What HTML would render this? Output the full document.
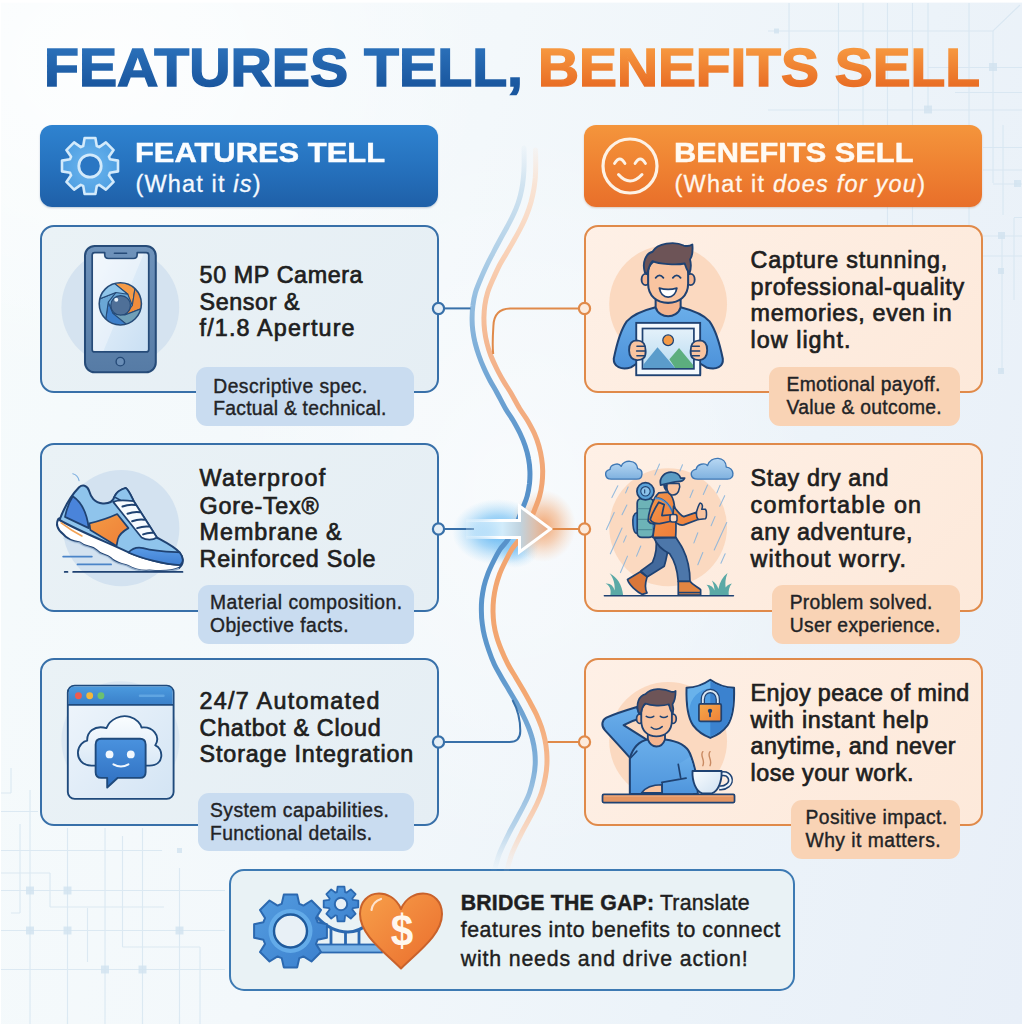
<!DOCTYPE html>
<html lang="en">
<head>
<meta charset="utf-8">
<title>Features Tell, Benefits Sell</title>
<style>
html,body{margin:0;padding:0;}
body{width:1024px;height:1024px;overflow:hidden;background:#f1f6f9;font-family:"Liberation Sans",sans-serif;}
#stage{position:relative;width:1024px;height:1024px;overflow:hidden;
  background:
   radial-gradient(ellipse 560px 460px at 10% 6%, rgba(255,255,255,.8), rgba(255,255,255,0) 70%),
   radial-gradient(ellipse 420px 520px at 50% 48%, rgba(255,255,255,.5), rgba(255,255,255,0) 72%),
   linear-gradient(105deg,#f6fbfc 0%,#f3f8fb 40%,#ecf3f9 72%,#e8eff8 100%);}
.t{position:absolute;white-space:pre;font-family:"Liberation Sans",sans-serif;margin:0;padding:0;}
.t i{font-style:italic;}
.box{position:absolute;box-sizing:border-box;}
.hdr{border-radius:12px;}
.hdr.l{left:40px;top:125px;width:398px;height:82px;background:linear-gradient(180deg,#2f83d0 0%,#2672be 50%,#1f60a8 100%);box-shadow:0 1px 2px rgba(20,60,110,.25);}
.hdr.r{left:584px;top:125px;width:398px;height:82px;background:linear-gradient(180deg,#f4953c 0%,#ef8232 50%,#e86f2a 100%);box-shadow:0 1px 2px rgba(150,70,10,.25);}
.card{border-radius:14px;border:2px solid;}
.card.l{left:40px;width:399px;border-color:#3870a9;background:linear-gradient(135deg,#eaf2f6,#e5eef4);}
.card.r{left:583.5px;width:399.5px;border-color:#e08a4a;background:linear-gradient(135deg,#fef0e6,#fde9da);}
.tag{border-radius:11px;}
.tag.l{background:#c9dcf0;}
.tag.r{background:#f9d3b5;}
svg{position:absolute;overflow:visible;}
</style>
</head>
<body>
<div id="stage">
<!-- faint background grid / circuit decoration -->
<svg width="1024" height="1024" viewBox="0 0 1024 1024" style="left:0;top:0">
<g stroke="#d4e4f0" stroke-width="1.2" fill="none" opacity=".75">
<!-- top-right grid -->
<path d="M789 3V60M838.5 3V125M863 3V125M887.5 3V125M912.5 3V125M928 3V108M969 3V125M993 31V183M1003 125V215M1014 218V300"/>
<path d="M768 31H993L1020 5M928 67.5H1022M955 92.5H1022M768 110H1022M983 147.5H1022M983 170H1022M993 184H1022M1014 217.5H1022"/>
<path d="M887.5 207V225M912.5 207V225M969 207V225M983 256H1022M1002 236V372M983 236H1022"/>
<!-- bottom-left grid -->
<path d="M30 790V1024M67.5 828V1024M105 828V1024M142.5 828V1024M179.5 868V1024M122.5 836V947M87.5 908V962M200 947V1024M11 768V793M20 824V913M50 873V907"/>
<path d="M1 811.5H38M1 850.5H162M1 873H50M1 890.5H225M50 907H164M1 930.5H225M122.5 947H200M1 969.5H225M1 793H11M11 913H20"/>
</g>
<g fill="#d2e3f0" opacity=".8">
<rect x="989" y="63" width="8" height="8"/><rect x="924" y="105.5" width="8" height="8"/><rect x="1014" y="180" width="7" height="7"/><rect x="774" y="28.5" width="5" height="5"/>
<rect x="998" y="232" width="7" height="7"/><rect x="998" y="268" width="6" height="6"/><rect x="998" y="368" width="6" height="6"/>
<rect x="26" y="886.5" width="8" height="8"/><rect x="63.5" y="886.5" width="8" height="8"/><rect x="26" y="926.5" width="8" height="8"/><rect x="63.5" y="926.5" width="8" height="8"/>
<rect x="175.5" y="926.5" width="8" height="8"/><rect x="101" y="965.5" width="8" height="8"/><rect x="138.5" y="965.5" width="8" height="8"/><rect x="177" y="848" width="5" height="5"/>
</g>
<!-- scan edge: thin white margins -->
<rect x="0" y="0" width="1024" height="2.6" fill="#fff"/><rect x="1022" y="0" width="2" height="1024" fill="#fff"/><rect x="0" y="0" width="1" height="1024" fill="#fff"/>
</svg>
<!-- header bars -->
<div class="box hdr l"></div>
<div class="box hdr r"></div>
<!-- feature cards -->
<div class="box card l" style="top:225px;height:168px;"></div>
<div class="box card l" style="top:443.2px;height:168.6px;"></div>
<div class="box card l" style="top:658.4px;height:168px;"></div>
<!-- benefit cards -->
<div class="box card r" style="top:225px;height:168px;"></div>
<div class="box card r" style="top:443.2px;height:168.6px;"></div>
<div class="box card r" style="top:658.4px;height:168px;"></div>
<!-- tags -->
<div class="box tag l" style="left:196.2px;top:367px;width:217.6px;height:58.5px;"></div>
<div class="box tag l" style="left:198px;top:585px;width:216px;height:59px;"></div>
<div class="box tag l" style="left:198px;top:792.5px;width:216px;height:58px;"></div>
<div class="box tag r" style="left:768.8px;top:367px;width:191.2px;height:58.6px;"></div>
<div class="box tag r" style="left:771.5px;top:585px;width:188.5px;height:59px;"></div>
<div class="box tag r" style="left:791px;top:800px;width:169px;height:58.5px;"></div>
<!-- bottom callout -->
<div class="box" style="left:228.5px;top:868.5px;width:566.5px;height:122px;border:2px solid #3d7ab3;border-radius:15px;background:#e9f2f5;"></div>
<!-- connectors -->
<svg width="1024" height="1024" viewBox="0 0 1024 1024" style="left:0;top:0">
<defs>
<linearGradient id="fadeB" x1="0" y1="140" x2="0" y2="872" gradientUnits="userSpaceOnUse">
 <stop offset="0" stop-color="#c3dbec" stop-opacity="0"/>
 <stop offset=".06" stop-color="#c3dbec" stop-opacity=".7"/>
 <stop offset=".15" stop-color="#b2d1e8"/>
 <stop offset=".22" stop-color="#93bde0"/>
 <stop offset=".32" stop-color="#73a7d5"/>
 <stop offset=".45" stop-color="#5590c9"/>
 <stop offset=".72" stop-color="#5d97cc"/>
 <stop offset=".86" stop-color="#82b1da"/>
 <stop offset=".94" stop-color="#a9cbe6" stop-opacity=".8"/>
 <stop offset="1" stop-color="#c3dbec" stop-opacity="0"/>
</linearGradient>
<linearGradient id="fadeO" x1="0" y1="140" x2="0" y2="874" gradientUnits="userSpaceOnUse">
 <stop offset="0" stop-color="#fbdcc6" stop-opacity="0"/>
 <stop offset=".06" stop-color="#fbdcc6" stop-opacity=".7"/>
 <stop offset=".15" stop-color="#f9d2b8"/>
 <stop offset=".22" stop-color="#f6c2a0"/>
 <stop offset=".32" stop-color="#f3b087"/>
 <stop offset=".5" stop-color="#f1a470"/>
 <stop offset=".75" stop-color="#f3a771"/>
 <stop offset=".87" stop-color="#f6bb94"/>
 <stop offset=".94" stop-color="#f9d0b5" stop-opacity=".8"/>
 <stop offset="1" stop-color="#fbdcc6" stop-opacity="0"/>
</linearGradient>
<radialGradient id="glowB" cx=".5" cy=".5" r=".5"><stop offset="0" stop-color="#4fadf1" stop-opacity=".95"/><stop offset=".5" stop-color="#62b8f3" stop-opacity=".55"/><stop offset="1" stop-color="#8fd0f7" stop-opacity="0"/></radialGradient>
<radialGradient id="glowO" cx=".5" cy=".5" r=".5"><stop offset="0" stop-color="#f19a5f" stop-opacity=".9"/><stop offset=".5" stop-color="#f3a873" stop-opacity=".5"/><stop offset="1" stop-color="#f6c29d" stop-opacity="0"/></radialGradient>
<linearGradient id="arrF" x1="470" y1="0" x2="551" y2="0" gradientUnits="userSpaceOnUse"><stop offset="0" stop-color="#e8f7ff" stop-opacity=".25"/><stop offset=".4" stop-color="#d2ecfb"/><stop offset=".62" stop-color="#c0d3df"/><stop offset=".8" stop-color="#dcc0ae"/><stop offset="1" stop-color="#efa575"/></linearGradient>
<linearGradient id="arrS" x1="462" y1="0" x2="500" y2="0" gradientUnits="userSpaceOnUse"><stop offset="0" stop-color="#fff" stop-opacity="0"/><stop offset="1" stop-color="#fff"/></linearGradient>
</defs>
<!-- glows -->
<ellipse cx="498" cy="532" rx="46" ry="33" fill="url(#glowB)"/>
<ellipse cx="515" cy="549" rx="24" ry="19" fill="url(#glowB)" opacity=".55"/>
<ellipse cx="543" cy="526" rx="33" ry="36" fill="url(#glowO)"/>
<!-- wavy strands -->
<path id="strandB" d="M524.0 148.0C524.0 150.8 524.2 160.1 524.1 165.0C524.0 169.9 523.8 173.3 523.4 177.5C523.0 181.7 522.5 185.8 521.6 190.0C520.8 194.2 519.7 198.3 518.3 202.5C516.9 206.7 515.2 210.8 513.2 215.0C511.3 219.2 509.0 223.3 506.8 227.5C504.5 231.7 502.1 235.8 499.9 240.0C497.6 244.2 495.4 248.3 493.3 252.5C491.1 256.7 489.1 260.3 486.9 265.0C484.7 269.7 481.9 275.8 480.0 280.5C478.1 285.2 476.5 288.8 475.3 293.0C474.1 297.2 473.4 301.3 472.9 305.5C472.3 309.7 472.1 313.8 472.1 318.0C472.0 322.2 472.3 326.3 472.8 330.5C473.3 334.7 474.1 338.8 475.1 343.0C476.2 347.2 477.4 351.3 478.9 355.5C480.3 359.7 482.0 363.8 483.9 368.0C485.7 372.2 487.8 376.3 490.0 380.5C492.2 384.7 494.6 388.3 497.1 393.0C499.7 397.7 502.7 403.8 505.4 408.5C508.1 413.2 510.9 416.8 513.4 421.0C515.8 425.2 518.1 429.3 520.1 433.5C522.1 437.7 523.8 441.8 525.2 446.0C526.6 450.2 527.8 454.3 528.5 458.5C529.3 462.7 529.8 466.8 529.9 471.0C530.1 475.2 529.9 479.3 529.5 483.5C529.0 487.7 528.3 492.1 527.2 496.0C526.2 499.9 525.0 502.2 523.1 507.0C521.2 511.8 518.4 519.5 515.8 525.0C513.1 530.5 509.9 536.2 507.4 540.2C504.8 544.2 502.6 545.5 500.3 549.0C497.9 552.5 495.5 557.3 493.4 561.5C491.3 565.7 489.3 569.8 487.8 574.0C486.2 578.2 484.9 582.3 483.9 586.5C483.0 590.7 482.3 594.8 481.8 599.0C481.4 603.2 481.3 607.3 481.4 611.5C481.4 615.7 481.7 619.8 482.3 624.0C482.8 628.2 483.5 632.2 484.6 636.5C485.7 640.8 487.0 645.3 488.7 650.0C490.3 654.7 492.3 660.0 494.4 664.5C496.5 669.0 498.9 672.8 501.2 677.0C503.6 681.2 506.1 685.3 508.6 689.5C511.1 693.7 513.6 697.8 516.0 702.0C518.3 706.2 520.7 710.3 522.7 714.5C524.8 718.7 526.7 722.8 528.4 727.0C530.0 731.2 531.5 735.3 532.5 739.5C533.6 743.7 534.3 747.8 534.8 752.0C535.2 756.2 535.4 760.3 535.2 764.5C535.0 768.7 534.6 772.3 533.6 777.0C532.7 781.7 531.2 787.8 529.6 792.5C528.0 797.2 526.1 800.8 524.0 805.0C522.0 809.2 519.6 813.3 517.4 817.5C515.2 821.7 512.8 825.8 510.6 830.0C508.5 834.2 506.3 838.3 504.4 842.5C502.4 846.7 500.4 850.8 498.9 855.0C497.4 859.2 496.0 865.0 495.2 867.5C494.3 870.0 494.0 869.6 493.8 870.0" fill="none" stroke="url(#fadeB)" stroke-width="5" stroke-linecap="round"/>
<path id="strandO" d="M535.5 150.0C535.5 152.5 535.8 160.4 535.7 165.0C535.7 169.6 535.6 173.3 535.3 177.5C534.9 181.7 534.5 185.8 533.7 190.0C533.0 194.2 532.0 198.3 530.9 202.5C529.7 206.7 528.3 210.8 526.6 215.0C525.0 219.2 523.0 223.3 520.9 227.5C518.8 231.7 516.5 235.8 514.1 240.0C511.8 244.2 509.3 248.3 506.9 252.5C504.5 256.7 502.0 260.3 499.6 265.0C497.2 269.7 494.5 275.8 492.4 280.5C490.4 285.2 488.7 288.8 487.5 293.0C486.2 297.2 485.4 301.3 484.8 305.5C484.2 309.7 484.0 313.8 483.9 318.0C483.9 322.2 484.1 326.3 484.6 330.5C485.1 334.7 485.8 338.8 486.9 343.0C487.9 347.2 489.2 351.3 490.8 355.5C492.4 359.7 494.3 363.8 496.4 368.0C498.4 372.2 500.7 376.3 503.1 380.5C505.5 384.7 508.1 388.3 510.9 393.0C513.6 397.7 516.8 403.8 519.6 408.5C522.5 413.2 525.3 416.8 527.8 421.0C530.2 425.2 532.5 429.3 534.4 433.5C536.3 437.7 537.7 441.8 538.9 446.0C540.1 450.2 541.0 454.3 541.6 458.5C542.3 462.7 542.6 466.8 542.7 471.0C542.7 475.2 542.5 479.3 542.0 483.5C541.5 487.7 540.8 491.8 539.6 496.0C538.5 500.2 537.2 503.3 535.1 508.5C533.1 513.7 530.0 521.7 527.3 527.0C524.6 532.3 521.3 536.6 518.8 540.2C516.2 543.9 514.3 545.5 512.0 549.0C509.8 552.5 507.3 557.3 505.3 561.5C503.2 565.7 501.2 569.8 499.6 574.0C498.1 578.2 496.8 582.3 495.8 586.5C494.8 590.7 494.1 594.8 493.6 599.0C493.1 603.2 493.0 607.3 493.0 611.5C493.1 615.7 493.3 619.8 493.9 624.0C494.5 628.2 495.3 632.2 496.6 636.5C497.8 640.8 499.5 645.3 501.4 650.0C503.3 654.7 505.8 660.0 508.1 664.5C510.4 669.0 513.0 672.8 515.5 677.0C518.0 681.2 520.5 685.3 522.9 689.5C525.3 693.7 527.6 697.8 529.9 702.0C532.1 706.2 534.5 710.3 536.4 714.5C538.3 718.7 540.0 722.8 541.5 727.0C542.9 731.2 544.0 735.3 544.9 739.5C545.8 743.7 546.3 747.8 546.7 752.0C547.0 756.2 547.1 760.3 546.9 764.5C546.7 768.7 546.3 772.3 545.4 777.0C544.6 781.7 543.1 787.8 541.6 792.5C540.1 797.2 538.3 800.8 536.4 805.0C534.4 809.2 532.1 813.3 529.9 817.5C527.7 821.7 525.3 825.8 523.1 830.0C521.0 834.2 518.8 838.3 516.9 842.5C514.9 846.7 512.9 850.8 511.4 855.0C509.9 859.2 508.5 865.0 507.7 867.5C506.8 870.0 506.5 869.6 506.3 870.0" fill="none" stroke="url(#fadeO)" stroke-width="5" stroke-linecap="round"/>
<!-- thin connector lines -->
<g fill="none" stroke-width="2">
<path d="M445 308.4H470.5" stroke="#3870a9"/>
<path d="M578 308.6H510Q494 309 493.4 326C492.6 338 492.4 347 493.2 354" stroke="#e08a4a"/>
<path d="M445 529H474" stroke="#3870a9"/>
<path d="M551 529H578" stroke="#e08a4a"/>
<path d="M445 742H509.5Q520.3 742 520.3 731C520.3 720 517.5 709 512.5 700" stroke="#3870a9"/>
<path d="M547.6 742H578" stroke="#e08a4a"/>
</g>
<!-- node dots -->
<g stroke-width="2.2">
<circle cx="438.5" cy="308.5" r="5.6" fill="#e4eef6" stroke="#3870a9"/>
<circle cx="438.5" cy="529" r="5.6" fill="#e4eef6" stroke="#3870a9"/>
<circle cx="438.5" cy="742" r="5.6" fill="#e4eef6" stroke="#3870a9"/>
<circle cx="584.5" cy="308.5" r="5.6" fill="#fcebdd" stroke="#e08a4a"/>
<circle cx="584.5" cy="529" r="5.6" fill="#fcebdd" stroke="#e08a4a"/>
<circle cx="584.5" cy="742" r="5.6" fill="#fcebdd" stroke="#e08a4a"/>
</g>
<!-- glowing arrow -->
<path d="M466 520.5H519.5V506L550.5 529L519.5 552V537.5H466Z" fill="url(#arrF)"/>
<path d="M466 520.5H519.5V506L550.5 529L519.5 552V537.5H466" fill="none" stroke="url(#arrS)" stroke-width="3" stroke-linejoin="miter"/>
</svg>
<!-- header icons -->
<svg width="1024" height="1024" viewBox="0 0 1024 1024" style="left:0;top:0">
<defs><radialGradient id="gearG" cx="90" cy="166" r="30" gradientUnits="userSpaceOnUse"><stop offset="0" stop-color="#6db6ee"/><stop offset="1" stop-color="#4f9fe2"/></radialGradient></defs>
<path d="M96.8 146.1L95.4 138.0L84.6 138.0L83.2 146.1A21.0 21.0 0 0 0 80.8 147.1L74.1 142.4L66.4 150.1L71.1 156.8A21.0 21.0 0 0 0 70.1 159.2L62.0 160.6L62.0 171.4L70.1 172.8A21.0 21.0 0 0 0 71.1 175.2L66.4 181.9L74.1 189.6L80.8 184.9A21.0 21.0 0 0 0 83.2 185.9L84.6 194.0L95.4 194.0L96.8 185.9A21.0 21.0 0 0 0 99.2 184.9L105.9 189.6L113.6 181.9L108.9 175.2A21.0 21.0 0 0 0 109.9 172.8L118.0 171.4L118.0 160.6L109.9 159.2A21.0 21.0 0 0 0 108.9 156.8L113.6 150.1L105.9 142.4L99.2 147.1A21.0 21.0 0 0 0 96.8 146.1Z" fill="url(#gearG)" stroke="#d3eafb" stroke-width="2.6" stroke-linejoin="round"/>
<circle cx="90" cy="166" r="11.2" fill="#2a76c3" stroke="#d3eafb" stroke-width="2.8"/>
<g fill="none" stroke="#fdf2e6" stroke-linecap="round">
<circle cx="630" cy="166" r="27" stroke-width="3.2"/>
<path d="M614.5 163.5Q619.8 154.5 625 163.5M635 163.5Q640.3 154.5 645.5 163.5" stroke-width="2.8"/>
<path d="M618.5 174.5Q630 187.5 642 174.5" stroke-width="3"/>
</g>
</svg>
<!-- illustration: phone with camera aperture -->
<svg style="left:30px;top:216px" width="160" height="160" viewBox="0 0 1024 1024">
<defs>
<linearGradient id="phB" x1="0" y1="0" x2="0" y2="1"><stop offset="0" stop-color="#6f93bb"/><stop offset="1" stop-color="#567ba5"/></linearGradient>
<linearGradient id="phS" x1="0" y1="0" x2="1" y2="1"><stop offset="0" stop-color="#edf5fc"/><stop offset="1" stop-color="#c9dff3"/></linearGradient>
<clipPath id="apC"><circle cx="578" cy="562" r="133"/></clipPath>
</defs>
<circle cx="578" cy="585" r="377" fill="#d5e3f0"/>
<rect x="352" y="192" width="453" height="808" rx="62" fill="url(#phB)" stroke="#264b78" stroke-width="13"/>
<path d="M398 251Q398 235 414 235H478V248Q478 272 502 272H662Q686 272 686 248V235H744Q760 235 760 251V854Q760 870 744 870H414Q398 870 398 854Z" fill="url(#phS)" stroke="#264b78" stroke-width="11" stroke-linejoin="round"/>
<path d="M404 241H474V250Q476 276 502 277H662Q688 276 690 250V241H728L470 864H404Z" fill="#fff" opacity=".35"/>
<path d="M540 238H618" stroke="#264b78" stroke-width="10" stroke-linecap="round"/>
<circle cx="578" cy="932" r="27" fill="#6a8eb7" stroke="#264b78" stroke-width="9"/>
<circle cx="578" cy="562" r="133" fill="#6aa7d6"/>
<g clip-path="url(#apC)" stroke="#264b78" stroke-width="7" stroke-linejoin="round">
<path d="M527 421L604 414L674 447L655 573L626 501Z" fill="#f59b47"/>
<path d="M674 447L719 511L726 588L607 634L655 573Z" fill="#f08c3c"/>
<path d="M726 588L693 658L629 703L530 623L607 634Z" fill="#6f9fb8"/>
<path d="M629 703L552 710L482 677L501 551L530 623Z" fill="#3d7fcb"/>
<path d="M482 677L437 613L430 536L549 490L501 551Z" fill="#6aa7d6"/>
<path d="M430 536L463 466L527 421L626 501L549 490Z" fill="#8fc5ea"/>
</g>
<circle cx="578" cy="562" r="135" fill="none" stroke="#264b78" stroke-width="10"/>
<circle cx="580" cy="572" r="63" fill="#4f7098" stroke="#264b78" stroke-width="8"/>
<circle cx="552" cy="536" r="13" fill="#eaf3fb"/>
</svg>
<!-- illustration: running shoe -->
<svg style="left:40px;top:450px" width="160" height="160" viewBox="0 0 1024 1024">
<defs>
<linearGradient id="shO" x1="0" y1="0" x2="1" y2="1"><stop offset="0" stop-color="#f39a44"/><stop offset="1" stop-color="#ef7f38"/></linearGradient>
<linearGradient id="shT" x1="0" y1="0" x2="0" y2="1"><stop offset="0" stop-color="#5a9be6"/><stop offset="1" stop-color="#3f7fd2"/></linearGradient>
</defs>
<circle cx="520" cy="500" r="372" fill="#d3e2f0"/>
<path d="M210 152Q242 160 250 196" fill="none" stroke="#7fb0e0" stroke-width="7" stroke-linecap="round"/>
<!-- sole -->
<path d="M118 440C100 470 108 510 150 540C175 575 215 585 255 592C290 625 330 610 360 640C395 680 420 660 450 690C490 730 520 725 560 740C610 770 660 775 700 772C770 778 850 775 890 755C915 735 918 715 905 700L560 640L150 430Z" fill="#fff" stroke="#1f4272" stroke-width="13" stroke-linejoin="round"/>
<path d="M150 560C180 585 215 592 255 598C290 632 330 618 360 648C395 688 420 668 450 698C490 736 520 732 560 746C610 775 660 780 700 777C770 783 850 780 890 760" fill="none" stroke="#c3d8ec" stroke-width="14" opacity=".7"/>
<!-- upper -->
<path d="M125 448C150 380 200 290 250 238C272 220 300 226 312 256C326 302 346 336 402 342C440 344 466 334 476 300C488 270 518 252 548 243C566 252 586 300 600 328L748 560C800 588 858 616 893 655C922 692 918 722 898 736C800 735 640 690 560 652C430 590 250 520 125 448Z" fill="#8fc4ec" stroke="#1f4272" stroke-width="13" stroke-linejoin="round"/>
<!-- heel counter -->
<path d="M210 296C260 330 300 400 312 500L160 428C170 380 188 330 210 296Z" fill="#4a84da" stroke="#1f4272" stroke-width="11" stroke-linejoin="round"/>
<!-- orange panel -->
<path d="M316 470C380 455 440 435 494 410L566 500C530 520 505 545 498 572L490 614L322 512Z" fill="url(#shO)" stroke="#1f4272" stroke-width="11" stroke-linejoin="round"/>
<!-- tongue -->
<path d="M476 300C488 270 518 252 548 243C566 252 586 300 600 328L520 325Z" fill="#8fc4ec" stroke="#1f4272" stroke-width="11" stroke-linejoin="round"/>
<!-- lace panel -->
<path d="M468 332C500 318 560 322 600 328L748 560C720 580 680 578 650 560C600 500 540 420 468 332Z" fill="#f7fbff" stroke="#1f4272" stroke-width="11" stroke-linejoin="round"/>
<!-- laces -->
<g fill="none" stroke="#1f4272" stroke-width="13" stroke-linecap="round">
<path d="M528 362Q570 345 612 352"/>
<path d="M560 408Q602 392 640 398"/>
<path d="M590 456Q630 440 668 446"/>
<path d="M622 500Q660 486 698 490"/>
<path d="M660 540Q690 528 722 530"/>
</g>
<!-- toe cap -->
<path d="M566 656C590 630 625 620 660 628C740 650 830 652 893 655C922 692 918 722 898 736C800 735 640 690 566 656Z" fill="url(#shT)" stroke="#1f4272" stroke-width="11" stroke-linejoin="round"/>
<!-- sole accent -->
<path d="M136 466C180 500 225 528 268 550" fill="none" stroke="#f2a255" stroke-width="11" stroke-linecap="round"/>
<!-- speed + ground lines -->
<path d="M148 682H332M240 732H455" fill="none" stroke="#4a84c8" stroke-width="11" stroke-linecap="round"/>
<path d="M158 780H176M212 780H912" fill="none" stroke="#1f4272" stroke-width="11" stroke-linecap="round"/>
</svg>
<!-- illustration: browser window with cloud + chatbot -->
<svg style="left:40px;top:670px" width="160" height="160" viewBox="0 0 1024 1024">
<defs>
<linearGradient id="cwT" x1="0" y1="0" x2="0" y2="1"><stop offset="0" stop-color="#4b9ade"/><stop offset="1" stop-color="#3a7fc9"/></linearGradient>
<linearGradient id="cwB" x1="0" y1="0" x2="1" y2="1"><stop offset="0" stop-color="#f0f6fc"/><stop offset="1" stop-color="#d3e4f4"/></linearGradient>
<linearGradient id="cwC" x1="0" y1="0" x2="0" y2="1"><stop offset="0" stop-color="#fafdff"/><stop offset="1" stop-color="#d9e8f6"/></linearGradient>
<linearGradient id="cwM" x1="0" y1="0" x2="0" y2="1"><stop offset="0" stop-color="#4a92de"/><stop offset="1" stop-color="#2f6fc0"/></linearGradient>
</defs>
<circle cx="515" cy="450" r="378" fill="#dbe7f2"/>
<rect x="178" y="100" width="677" height="725" rx="44" fill="url(#cwB)" stroke="#1f4a7c" stroke-width="12"/>
<path d="M184 222V144Q184 106 222 106H811Q849 106 849 144V222Z" fill="url(#cwT)"/>
<path d="M180 223H853" stroke="#1f4a7c" stroke-width="12"/>
<path d="M640 165H790" stroke="#6db0e8" stroke-width="16" stroke-linecap="round" opacity=".7"/>
<circle cx="246" cy="165" r="22" fill="#ee5b4e"/><circle cx="318" cy="165" r="22" fill="#f2b63c"/><circle cx="390" cy="165" r="22" fill="#6cc070"/>
<!-- cloud -->
<path d="M330 612C270 612 240 570 243 525C246 480 280 455 302 452C300 400 345 350 425 372C450 310 520 285 575 300C620 312 645 345 650 368C720 360 775 420 738 482C790 500 800 612 700 612Z" fill="url(#cwC)" stroke="#1f4a7c" stroke-width="12" stroke-linejoin="round"/>
<!-- chat bubble -->
<path d="M392 440H640Q676 440 676 476V654Q676 690 640 690H498L430 752V690H392Q356 690 356 654V476Q356 440 392 440Z" fill="url(#cwM)" stroke="#1f4a7c" stroke-width="12" stroke-linejoin="round"/>
<circle cx="445" cy="540" r="25" fill="#f2f8fe"/><circle cx="581" cy="540" r="25" fill="#f2f8fe"/>
<path d="M470 604Q518 632 566 604" fill="none" stroke="#f2f8fe" stroke-width="13" stroke-linecap="round"/>
</svg>
<!-- illustration: happy person holding a framed photo -->
<svg style="left:590px;top:226px" width="160" height="160" viewBox="0 0 1024 1024">
<defs>
<linearGradient id="ppS" x1="0" y1="0" x2="0" y2="1"><stop offset="0" stop-color="#6aaeea"/><stop offset="1" stop-color="#4a8fd8"/></linearGradient>
<linearGradient id="ppK" x1="0" y1="0" x2="0" y2="1"><stop offset="0" stop-color="#e4f1fa"/><stop offset="1" stop-color="#b9dcf1"/></linearGradient>
</defs>
<circle cx="500" cy="500" r="377" fill="#fbd9c0"/>
<!-- body / arms -->
<path d="M420 520C360 535 280 560 235 610C200 660 170 760 152 850C150 900 200 925 262 905L300 880V950H705V880L745 905C810 925 855 900 850 850C832 760 800 660 765 610C720 560 640 535 580 520Z" fill="url(#ppS)" stroke="#1f4272" stroke-width="13" stroke-linejoin="round"/>
<!-- neck -->
<path d="M420 470V520C430 560 470 578 500 578C530 578 570 560 580 520V470Z" fill="#f5b58f" stroke="#1f4272" stroke-width="13" stroke-linejoin="round"/>
<!-- ears -->
<ellipse cx="356" cy="342" rx="26" ry="36" fill="#f5b58f" stroke="#1f4272" stroke-width="12"/>
<ellipse cx="644" cy="342" rx="26" ry="36" fill="#f5b58f" stroke="#1f4272" stroke-width="12"/>
<!-- face -->
<path d="M372 300C372 230 420 205 500 205C580 205 628 230 628 300V370C628 450 570 492 500 492C430 492 372 450 372 370Z" fill="#f9c4a0" stroke="#1f4272" stroke-width="13"/>
<!-- hair -->
<path d="M352 300C330 230 360 175 400 165C430 110 540 95 600 125C625 132 645 125 655 118C660 170 650 200 640 215C650 250 645 280 636 305C620 280 612 262 606 240C560 250 440 245 400 225C380 245 372 280 366 305Z" fill="#6d5457" stroke="#1f4272" stroke-width="12" stroke-linejoin="round"/>
<!-- eyes + smile -->
<path d="M420 332Q445 300 470 332M530 332Q555 300 580 332" fill="none" stroke="#1f4272" stroke-width="11" stroke-linecap="round"/>
<path d="M444 398C480 408 520 408 556 398C548 440 525 455 500 455C475 455 452 440 444 398Z" fill="#fff" stroke="#1f4272" stroke-width="11" stroke-linejoin="round"/>
<!-- frame -->
<rect x="296" y="620" width="409" height="335" fill="#f4f9fd" stroke="#1f4272" stroke-width="12"/>
<rect x="336" y="656" width="329" height="258" fill="url(#ppK)" stroke="#1f4272" stroke-width="11"/>
<circle cx="500" cy="731" r="34" fill="#f59b47" stroke="#1f4272" stroke-width="8"/>
<path d="M341 888L432 776L545 909H341Z" fill="#5b9ccb"/>
<path d="M508 852L570 780L660 890V909H545Z" fill="#5cae7e"/>
<!-- hands -->
<path d="M300 732C265 732 250 760 250 795C250 835 270 860 305 858C340 858 358 840 356 800C356 760 345 735 300 732Z" fill="#f9c4a0" stroke="#1f4272" stroke-width="12"/>
<path d="M300 770H350M298 800H352M300 830H348" stroke="#1f4272" stroke-width="9" stroke-linecap="round"/>
<path d="M700 732C735 732 750 760 750 795C750 835 730 860 695 858C660 858 642 840 644 800C644 760 655 735 700 732Z" fill="#f9c4a0" stroke="#1f4272" stroke-width="12"/>
<path d="M700 770H650M702 800H648M700 830H652" stroke="#1f4272" stroke-width="9" stroke-linecap="round"/>
</svg>
<!-- illustration: hiker walking in rain -->
<svg style="left:590px;top:446px" width="160" height="160" viewBox="0 0 1024 1024">
<defs>
<linearGradient id="hkC" x1="0" y1="0" x2="0" y2="1"><stop offset="0" stop-color="#b8d8f3"/><stop offset="1" stop-color="#7fb1df"/></linearGradient>
<linearGradient id="hkJ" x1="0" y1="0" x2="1" y2="1"><stop offset="0" stop-color="#f3964a"/><stop offset="1" stop-color="#ee7d3a"/></linearGradient>
</defs>
<circle cx="500" cy="520" r="377" fill="#fbd9c0"/>
<!-- rain -->
<g stroke="#86b3dc" stroke-width="7" stroke-linecap="round" fill="none" opacity=".85">
<path d="M445 115L415 185M592 120L575 160M178 255L140 330M244 262L228 300M236 378L205 440M155 425L105 535M205 525L130 690M232 575L215 615M325 640L298 705M240 705L195 810"/>
<path d="M752 250L725 310M660 282L640 330M832 252L812 300M862 318L830 385M800 452L775 510M875 490L795 665M690 555L665 620M722 682L690 760M865 690L838 750"/>
</g>
<!-- clouds -->
<path d="M135 212C95 212 85 160 128 150C130 115 185 105 200 130C215 85 300 85 305 145C345 150 340 212 300 212Z" fill="url(#hkC)" stroke="#3f78b5" stroke-width="9" stroke-linejoin="round"/>
<path d="M690 212C640 212 632 160 680 148C685 115 735 105 752 125C775 60 870 65 872 135C925 140 930 212 880 212Z" fill="url(#hkC)" stroke="#3f78b5" stroke-width="9" stroke-linejoin="round"/>
<!-- grass -->
<path d="M130 955C140 915 120 890 100 880C135 878 150 900 158 925C160 880 150 845 125 815C175 840 205 890 212 955Z" fill="#5aa9a6"/>
<path d="M765 955C770 925 760 900 745 888C775 890 790 905 797 925C795 895 790 880 780 860C805 875 815 895 822 915C830 870 850 835 880 812C865 850 865 880 868 905C880 890 895 882 908 880C890 900 885 930 888 955Z" fill="#5aa9a6"/>
<!-- back leg -->
<path d="M420 590C430 640 420 700 400 745L325 800L365 838L475 770C490 720 500 660 505 610Z" fill="#42699c" stroke="#1f4272" stroke-width="11" stroke-linejoin="round"/>
<!-- back boot -->
<path d="M322 805L240 855C250 890 300 935 335 950L365 940C345 905 355 870 365 838Z" fill="#d9773a" stroke="#1f4272" stroke-width="11" stroke-linejoin="round"/>
<!-- front leg -->
<path d="M410 590C430 640 470 670 510 690C545 740 560 800 565 868L640 868C640 790 625 720 595 660C580 630 560 605 550 585Z" fill="#4d77aa" stroke="#1f4272" stroke-width="11" stroke-linejoin="round"/>
<!-- front boot -->
<path d="M565 866H640C655 890 690 900 708 920V955H565Z" fill="#e28542" stroke="#1f4272" stroke-width="11" stroke-linejoin="round"/>
<path d="M565 938H708" stroke="#1f4272" stroke-width="10"/>
<!-- backpack -->
<rect x="302" y="335" width="105" height="250" rx="30" fill="#6db3b7" stroke="#1f4272" stroke-width="11"/>
<path d="M306 400H402M306 470H402M306 535H402" stroke="#4f8f9a" stroke-width="8"/>
<path d="M302 425C275 430 272 470 275 505C278 545 290 560 302 560Z" fill="#4d8fd0" stroke="#1f4272" stroke-width="10" stroke-linejoin="round"/>
<!-- bedroll -->
<circle cx="355" cy="290" r="55" fill="#5aa2d8" stroke="#1f4272" stroke-width="11"/>
<circle cx="355" cy="290" r="30" fill="#8cc3ea" stroke="#1f4272" stroke-width="7"/>
<path d="M350 280V300" stroke="#1f4272" stroke-width="7" stroke-linecap="round"/>
<!-- strap loop -->
<path d="M400 510C440 545 480 540 500 500" fill="none" stroke="#4d8fd0" stroke-width="14"/>
<!-- jacket torso -->
<path d="M440 300C400 340 375 420 372 480C385 500 400 500 415 495L402 585H548C552 520 550 440 540 380C535 340 520 310 500 295Z" fill="url(#hkJ)" stroke="#1f4272" stroke-width="11" stroke-linejoin="round"/>
<!-- strap -->
<path d="M415 335C470 330 520 380 535 445" fill="none" stroke="#4d8fd0" stroke-width="13"/>
<path d="M415 335C470 330 520 380 535 445" fill="none" stroke="#1f4272" stroke-width="3" transform="translate(-4,-8)"/>
<!-- face -->
<path d="M492 240C488 275 490 300 520 312C550 318 568 300 572 270C578 260 572 250 570 240Z" fill="#f9c4a0" stroke="#1f4272" stroke-width="10" stroke-linejoin="round"/>
<path d="M468 250C470 270 478 285 490 292L496 250Z" fill="#1f4272"/>
<!-- cap -->
<path d="M452 250C440 200 480 165 525 168C560 170 575 190 580 205L606 205C600 225 585 228 560 228C520 232 480 245 452 250Z" fill="#5b9cc4" stroke="#1f4272" stroke-width="11" stroke-linejoin="round"/>
<!-- extended arm -->
<path d="M535 385C560 420 580 445 600 452L680 425L692 470L600 505C570 510 545 490 530 465Z" fill="url(#hkJ)" stroke="#1f4272" stroke-width="11" stroke-linejoin="round"/>
<!-- thumb-up hand -->
<path d="M682 420C690 395 695 375 705 365C722 368 722 390 715 405L738 405C748 410 748 460 738 466L695 470C685 465 680 445 682 420Z" fill="#f9c4a0" stroke="#1f4272" stroke-width="10" stroke-linejoin="round"/>
<!-- near arm + hand -->
<path d="M440 360C415 400 395 440 385 470C395 495 430 500 455 495L525 480L520 440L460 445C465 420 470 395 475 375Z" fill="url(#hkJ)" stroke="#1f4272" stroke-width="11" stroke-linejoin="round"/>
<rect x="512" y="438" width="45" height="48" rx="14" fill="#fbd8c0" stroke="#1f4272" stroke-width="10"/>
<!-- ground -->
<path d="M92 958H918" stroke="#1f4272" stroke-width="10" stroke-linecap="round"/>
</svg>
<!-- illustration: relaxed person, security shield, coffee -->
<svg style="left:590px;top:666px" width="160" height="160" viewBox="0 0 1024 1024">
<defs>
<linearGradient id="rxS" x1="0" y1="0" x2="0" y2="1"><stop offset="0" stop-color="#6aaeea"/><stop offset="1" stop-color="#4f95dc"/></linearGradient>
<linearGradient id="rxL" x1="0" y1="0" x2="1" y2="1"><stop offset="0" stop-color="#f6a94a"/><stop offset="1" stop-color="#ee8038"/></linearGradient>
<linearGradient id="rxC" x1="0" y1="0" x2="1" y2="1"><stop offset="0" stop-color="#fafdff"/><stop offset="1" stop-color="#cfe0f1"/></linearGradient>
</defs>
<circle cx="500" cy="480" r="377" fill="#fbd9c0"/>
<!-- raised arm -->
<path d="M300 262C240 280 160 305 105 330C75 345 70 385 95 410C150 470 215 540 258 590L360 470L215 378C250 360 290 345 325 335Z" fill="url(#rxS)" stroke="#1f4272" stroke-width="13" stroke-linejoin="round"/>
<!-- torso -->
<path d="M370 470C320 480 275 520 255 590V820H690C690 740 672 640 640 560C620 510 560 480 480 470Z" fill="url(#rxS)" stroke="#1f4272" stroke-width="13" stroke-linejoin="round"/>
<path d="M258 590L300 545" stroke="#1f4272" stroke-width="10" stroke-linecap="round"/>
<!-- neck -->
<path d="M370 430V470C385 510 410 515 425 515C445 515 468 505 480 470V430Z" fill="#f5b58f" stroke="#1f4272" stroke-width="12" stroke-linejoin="round"/>
<!-- ears -->
<ellipse cx="318" cy="338" rx="20" ry="30" fill="#f5b58f" stroke="#1f4272" stroke-width="11"/>
<ellipse cx="532" cy="338" rx="20" ry="30" fill="#f5b58f" stroke="#1f4272" stroke-width="11"/>
<!-- face -->
<path d="M328 300C328 250 360 225 425 225C490 225 524 250 524 300V350C524 415 480 450 425 450C370 450 328 415 328 350Z" fill="#f9c4a0" stroke="#1f4272" stroke-width="12"/>
<!-- hair -->
<path d="M312 300C290 240 315 190 355 180C390 140 470 140 520 165C530 168 540 165 548 160C548 210 535 235 528 245C535 265 534 285 530 305C515 285 508 265 505 245C460 258 390 255 355 240C335 255 330 280 325 305Z" fill="#6d5457" stroke="#1f4272" stroke-width="11" stroke-linejoin="round"/>
<path d="M360 322Q385 338 408 322M450 322Q472 338 495 322" fill="none" stroke="#1f4272" stroke-width="10" stroke-linecap="round"/>
<path d="M392 392Q428 420 462 388" fill="none" stroke="#1f4272" stroke-width="10" stroke-linecap="round"/>
<!-- resting arm -->
<path d="M565 630L585 720L460 745L468 815H660C690 760 665 640 640 580Z" fill="url(#rxS)"/>
<path d="M565 630L580 715M615 718L460 745" fill="none" stroke="#1f4272" stroke-width="11" stroke-linecap="round"/>
<path d="M460 760C420 760 360 770 330 812H462Z" fill="#f9c4a0" stroke="#1f4272" stroke-width="11" stroke-linejoin="round"/>
<path d="M462 745V815" stroke="#1f4272" stroke-width="10"/>
<!-- shield -->
<path d="M770 88C815 120 870 138 922 140C925 250 915 330 880 380C850 420 810 445 770 460C730 445 690 420 660 380C625 330 615 250 618 140C670 138 725 120 770 88Z" fill="#4f9de2" stroke="#1f4272" stroke-width="13" stroke-linejoin="round"/>
<path d="M770 96C815 126 868 143 915 146C917 250 908 328 875 375C848 412 808 436 770 452Z" fill="#3b82cf"/>
<path d="M770 96C725 126 672 143 625 146C624 200 626 250 634 290C640 200 700 150 770 140Z" fill="#6fb8ee" opacity=".8"/>
<!-- padlock -->
<path d="M722 245V215C722 180 745 160 770 160C795 160 818 180 818 215V245" fill="none" stroke="#1f4272" stroke-width="28"/>
<path d="M722 245V215C722 180 745 160 770 160C795 160 818 180 818 215V245" fill="none" stroke="#d9e6f2" stroke-width="12"/>
<rect x="697" y="242" width="143" height="112" rx="10" fill="url(#rxL)" stroke="#1f4272" stroke-width="11"/>
<circle cx="768" cy="287" r="14" fill="#1f4272"/><path d="M768 290V322" stroke="#1f4272" stroke-width="12" stroke-linecap="round"/>
<!-- steam -->
<path d="M722 548C700 575 740 600 722 638M768 548C746 575 786 600 768 638" fill="none" stroke="#c98a62" stroke-width="9" stroke-linecap="round"/>
<!-- cup -->
<path d="M838 690C900 680 915 740 880 765C865 778 845 782 828 780" fill="none" stroke="#1f4272" stroke-width="34"/>
<path d="M838 690C900 680 915 740 880 765C865 778 845 782 828 780" fill="none" stroke="#eef4fa" stroke-width="14"/>
<path d="M656 672H842C845 740 820 800 780 815H718C678 800 653 740 656 672Z" fill="url(#rxC)" stroke="#1f4272" stroke-width="12" stroke-linejoin="round"/>
<!-- table -->
<rect x="80" y="822" width="845" height="52" rx="8" fill="#e59663" stroke="#1f4272" stroke-width="11"/>
<path d="M90 832H915" stroke="#f0b085" stroke-width="8" opacity=".7"/>
</svg>
<!-- illustration: gears bridging to a heart -->
<svg width="1024" height="1024" viewBox="0 0 1024 1024" style="left:0;top:0">
<defs>
<linearGradient id="brG" x1="0" y1="0" x2="1" y2="1"><stop offset="0" stop-color="#559de0"/><stop offset="1" stop-color="#3a7fcd"/></linearGradient>
<linearGradient id="brH" x1="0" y1="0" x2="1" y2="1"><stop offset="0" stop-color="#f7a04a"/><stop offset=".55" stop-color="#f0833a"/><stop offset="1" stop-color="#e96d2b"/></linearGradient>
</defs>
<!-- bridge -->
<path d="M316 916C325 926 336 932 348 932C356 932 362 929 368 924" fill="none" stroke="#2c69b0" stroke-width="3.2"/>
<path d="M331 929V946M345.5 932V946M359 929V946" stroke="#2c69b0" stroke-width="2.8"/>
<rect x="312" y="944.5" width="70" height="8" fill="#79b2e6" stroke="#2c69b0" stroke-width="1.8"/>
<!-- gears -->
<path d="M345.1 892.1L344.4 886.7L337.6 886.7L336.9 892.1A12.6 12.6 0 0 0 335.5 892.7L331.2 889.4L326.4 894.2L329.7 898.5A12.6 12.6 0 0 0 329.1 899.9L323.7 900.6L323.7 907.4L329.1 908.1A12.6 12.6 0 0 0 329.7 909.5L326.4 913.8L331.2 918.6L335.5 915.3A12.6 12.6 0 0 0 336.9 915.9L337.6 921.3L344.4 921.3L345.1 915.9A12.6 12.6 0 0 0 346.5 915.3L350.8 918.6L355.6 913.8L352.3 909.5A12.6 12.6 0 0 0 352.9 908.1L358.3 907.4L358.3 900.6L352.9 899.9A12.6 12.6 0 0 0 352.3 898.5L355.6 894.2L350.8 889.4L346.5 892.7A12.6 12.6 0 0 0 345.1 892.1Z" fill="url(#brG)" stroke="#2c69b0" stroke-width="1.8" stroke-linejoin="round"/>
<circle cx="341" cy="904" r="6.2" fill="#e8f0f6" stroke="#2c69b0" stroke-width="2"/>
<path d="M299.3 903.9L297.2 894.6L283.8 894.6L281.7 903.9A28.5 28.5 0 0 0 277.6 905.6L269.5 900.5L260.0 910.0L265.1 918.1A28.5 28.5 0 0 0 263.4 922.2L254.1 924.3L254.1 937.7L263.4 939.8A28.5 28.5 0 0 0 265.1 943.9L260.0 952.0L269.5 961.5L277.6 956.4A28.5 28.5 0 0 0 281.7 958.1L283.8 967.4L297.2 967.4L299.3 958.1A28.5 28.5 0 0 0 303.4 956.4L311.5 961.5L321.0 952.0L315.9 943.9A28.5 28.5 0 0 0 317.6 939.8L326.9 937.7L326.9 924.3L317.6 922.2A28.5 28.5 0 0 0 315.9 918.1L321.0 910.0L311.5 900.5L303.4 905.6A28.5 28.5 0 0 0 299.3 903.9Z" fill="url(#brG)" stroke="#2c69b0" stroke-width="2" stroke-linejoin="round"/>
<circle cx="290.5" cy="931" r="22" fill="#63abe9"/>
<circle cx="290.5" cy="931" r="16.5" fill="#e8f0f6" stroke="#1f5a9c" stroke-width="2.4"/>
<!-- heart -->
<path d="M401 909C396 897 386 893.5 379 893.5C368 893.5 360 902 360 914C360 934 382 950 401 968.5C420 950 442 934 442 914C442 902 434 893.5 423 893.5C416 893.5 406 897 401 909Z" fill="url(#brH)" stroke="#c9622b" stroke-width="2" stroke-linejoin="round"/>
<path d="M371.5 910C372.5 904 376 900.5 381 899" fill="none" stroke="#fde3cf" stroke-width="2.2" stroke-linecap="round"/>
<text x="402" y="946" text-anchor="middle" font-family="Liberation Sans, sans-serif" font-weight="700" font-size="44" fill="#fff7ee" transform="translate(402 0) scale(.92 1) translate(-402 0)">$</text>
</svg>

<!-- text -->
<div class="t" style="left:43.5px;top:34.8px;font-size:54.5px;line-height:65px;transform-origin:0 0;transform:scaleX(1.0500);font-weight:700;background:linear-gradient(180deg,#2a6fb8 22%,#1a579f 78%);-webkit-background-clip:text;background-clip:text;-webkit-text-fill-color:transparent;-webkit-text-stroke:1.5px transparent;">FEATURES TELL,</div>
<div class="t" style="left:537.5px;top:34.8px;font-size:54.5px;line-height:65px;transform-origin:0 0;transform:scaleX(1.0426);font-weight:700;background:linear-gradient(180deg,#f6973f 22%,#e96e25 78%);-webkit-background-clip:text;background-clip:text;-webkit-text-fill-color:transparent;-webkit-text-stroke:1.5px transparent;">BENEFITS SELL</div>
<div class="t" style="left:135.0px;top:136.0px;font-size:27.5px;line-height:33px;transform-origin:0 0;transform:scaleX(1.1234);font-weight:700;color:#fbfdff;-webkit-text-stroke:0.5px #fbfdff;">FEATURES TELL</div>
<div class="t" style="left:135.5px;top:170.4px;font-size:23.5px;line-height:28px;letter-spacing:1.15px;color:#f4f9ff;-webkit-text-stroke:0.3px #f4f9ff;">(What it <i>is</i>)</div>
<div class="t" style="left:674.0px;top:136.0px;font-size:27.5px;line-height:33px;transform-origin:0 0;transform:scaleX(1.1196);font-weight:700;color:#fffaf3;-webkit-text-stroke:0.5px #fffaf3;">BENEFITS SELL</div>
<div class="t" style="left:674.5px;top:170.4px;font-size:23.5px;line-height:28px;letter-spacing:1.23px;color:#fff6ec;-webkit-text-stroke:0.3px #fff6ec;">(What it <i>does for you</i>)</div>
<div class="t" style="left:199.6px;top:260.9px;font-size:23.3px;line-height:28px;letter-spacing:0.61px;color:#1e1e20;-webkit-text-stroke:0.7px #1e1e20;">50 MP Camera</div>
<div class="t" style="left:199.6px;top:287.9px;font-size:23.3px;line-height:28px;letter-spacing:0.60px;color:#1e1e20;-webkit-text-stroke:0.7px #1e1e20;">Sensor &amp;</div>
<div class="t" style="left:199.6px;top:314.2px;font-size:23.3px;line-height:28px;letter-spacing:1.16px;color:#1e1e20;-webkit-text-stroke:0.7px #1e1e20;">f/1.8 Aperture</div>
<div class="t" style="left:199.6px;top:464.3px;font-size:23.3px;line-height:28px;letter-spacing:1.24px;color:#1e1e20;-webkit-text-stroke:0.7px #1e1e20;">Waterproof</div>
<div class="t" style="left:199.6px;top:491.9px;font-size:23.3px;line-height:28px;letter-spacing:0.75px;color:#1e1e20;-webkit-text-stroke:0.7px #1e1e20;">Gore-Tex®</div>
<div class="t" style="left:199.6px;top:518.1px;font-size:23.3px;line-height:28px;letter-spacing:0.96px;color:#1e1e20;-webkit-text-stroke:0.7px #1e1e20;">Membrane &amp;</div>
<div class="t" style="left:199.6px;top:544.5px;font-size:23.3px;line-height:28px;letter-spacing:0.73px;color:#1e1e20;-webkit-text-stroke:0.7px #1e1e20;">Reinforced Sole</div>
<div class="t" style="left:199.6px;top:687.2px;font-size:23.3px;line-height:28px;letter-spacing:1.29px;color:#1e1e20;-webkit-text-stroke:0.7px #1e1e20;">24/7 Automated</div>
<div class="t" style="left:199.6px;top:713.9px;font-size:23.3px;line-height:28px;letter-spacing:0.72px;color:#1e1e20;-webkit-text-stroke:0.7px #1e1e20;">Chatbot &amp; Cloud</div>
<div class="t" style="left:199.6px;top:740.2px;font-size:23.3px;line-height:28px;letter-spacing:0.86px;color:#1e1e20;-webkit-text-stroke:0.7px #1e1e20;">Storage Integration</div>
<div class="t" style="left:750.6px;top:246.1px;font-size:23.3px;line-height:28px;letter-spacing:0.80px;color:#1e1e20;-webkit-text-stroke:0.7px #1e1e20;">Capture stunning,</div>
<div class="t" style="left:750.6px;top:272.5px;font-size:23.3px;line-height:28px;letter-spacing:0.67px;color:#1e1e20;-webkit-text-stroke:0.7px #1e1e20;">professional-quality</div>
<div class="t" style="left:750.6px;top:299.4px;font-size:23.3px;line-height:28px;letter-spacing:0.67px;color:#1e1e20;-webkit-text-stroke:0.7px #1e1e20;">memories, even in</div>
<div class="t" style="left:750.6px;top:326.1px;font-size:23.3px;line-height:28px;letter-spacing:1.04px;color:#1e1e20;-webkit-text-stroke:0.7px #1e1e20;">low light.</div>
<div class="t" style="left:750.6px;top:464.3px;font-size:23.3px;line-height:28px;letter-spacing:0.64px;color:#1e1e20;-webkit-text-stroke:0.7px #1e1e20;">Stay dry and</div>
<div class="t" style="left:750.6px;top:491.2px;font-size:23.3px;line-height:28px;letter-spacing:1.26px;color:#1e1e20;-webkit-text-stroke:0.7px #1e1e20;">comfortable on</div>
<div class="t" style="left:750.6px;top:517.6px;font-size:23.3px;line-height:28px;letter-spacing:0.60px;color:#1e1e20;-webkit-text-stroke:0.7px #1e1e20;">any adventure,</div>
<div class="t" style="left:750.6px;top:544.5px;font-size:23.3px;line-height:28px;letter-spacing:1.03px;color:#1e1e20;-webkit-text-stroke:0.7px #1e1e20;">without worry.</div>
<div class="t" style="left:750.6px;top:678.5px;font-size:23.3px;line-height:28px;letter-spacing:0.42px;color:#1e1e20;-webkit-text-stroke:0.7px #1e1e20;">Enjoy peace of mind</div>
<div class="t" style="left:750.6px;top:705.7px;font-size:23.3px;line-height:28px;letter-spacing:0.68px;color:#1e1e20;-webkit-text-stroke:0.7px #1e1e20;">with instant help</div>
<div class="t" style="left:750.6px;top:732.1px;font-size:23.3px;line-height:28px;letter-spacing:0.40px;color:#1e1e20;-webkit-text-stroke:0.7px #1e1e20;">anytime, and never</div>
<div class="t" style="left:750.6px;top:758.9px;font-size:23.3px;line-height:28px;letter-spacing:0.45px;color:#1e1e20;-webkit-text-stroke:0.7px #1e1e20;">lose your work.</div>
<div class="t" style="left:213.3px;top:375.0px;font-size:19.3px;line-height:23px;letter-spacing:0.45px;color:#222326;-webkit-text-stroke:0.38px #222326;">Descriptive spec.</div>
<div class="t" style="left:213.3px;top:396.6px;font-size:19.3px;line-height:23px;letter-spacing:0.25px;color:#222326;-webkit-text-stroke:0.38px #222326;">Factual &amp; technical.</div>
<div class="t" style="left:210.0px;top:591.4px;font-size:19.3px;line-height:23px;letter-spacing:0.50px;color:#222326;-webkit-text-stroke:0.38px #222326;">Material composition.</div>
<div class="t" style="left:210.0px;top:613.8px;font-size:19.3px;line-height:23px;letter-spacing:0.45px;color:#222326;-webkit-text-stroke:0.38px #222326;">Objective facts.</div>
<div class="t" style="left:210.0px;top:799.3px;font-size:19.3px;line-height:23px;letter-spacing:0.45px;color:#222326;-webkit-text-stroke:0.38px #222326;">System capabilities.</div>
<div class="t" style="left:210.0px;top:821.8px;font-size:19.3px;line-height:23px;letter-spacing:0.37px;color:#222326;-webkit-text-stroke:0.38px #222326;">Functional details.</div>
<div class="t" style="left:786.5px;top:373.2px;font-size:19.3px;line-height:23px;letter-spacing:0.32px;color:#222326;-webkit-text-stroke:0.38px #222326;">Emotional payoff.</div>
<div class="t" style="left:786.5px;top:395.7px;font-size:19.3px;line-height:23px;letter-spacing:0.29px;color:#222326;-webkit-text-stroke:0.38px #222326;">Value &amp; outcome.</div>
<div class="t" style="left:789.7px;top:591.4px;font-size:19.3px;line-height:23px;letter-spacing:0.32px;color:#222326;-webkit-text-stroke:0.38px #222326;">Problem solved.</div>
<div class="t" style="left:789.7px;top:613.8px;font-size:19.3px;line-height:23px;letter-spacing:0.32px;color:#222326;-webkit-text-stroke:0.38px #222326;">User experience.</div>
<div class="t" style="left:805.5px;top:806.3px;font-size:19.3px;line-height:23px;letter-spacing:0.45px;color:#222326;-webkit-text-stroke:0.38px #222326;">Positive impact.</div>
<div class="t" style="left:805.5px;top:828.8px;font-size:19.3px;line-height:23px;letter-spacing:0.47px;color:#222326;-webkit-text-stroke:0.38px #222326;">Why it matters.</div>
<div class="t" style="left:460.7px;top:889.5px;font-size:21.3px;line-height:26px;letter-spacing:0.20px;color:#1e1e20;-webkit-text-stroke:0.42px #1e1e20;"><b>BRIDGE THE GAP:</b> Translate</div>
<div class="t" style="left:460.7px;top:917.3px;font-size:21.3px;line-height:26px;letter-spacing:0.55px;color:#1e1e20;-webkit-text-stroke:0.42px #1e1e20;">features into benefits to connect</div>
<div class="t" style="left:460.7px;top:946.2px;font-size:21.3px;line-height:26px;letter-spacing:0.85px;color:#1e1e20;-webkit-text-stroke:0.42px #1e1e20;">with needs and drive action!</div>
</div>
</body>
</html>
